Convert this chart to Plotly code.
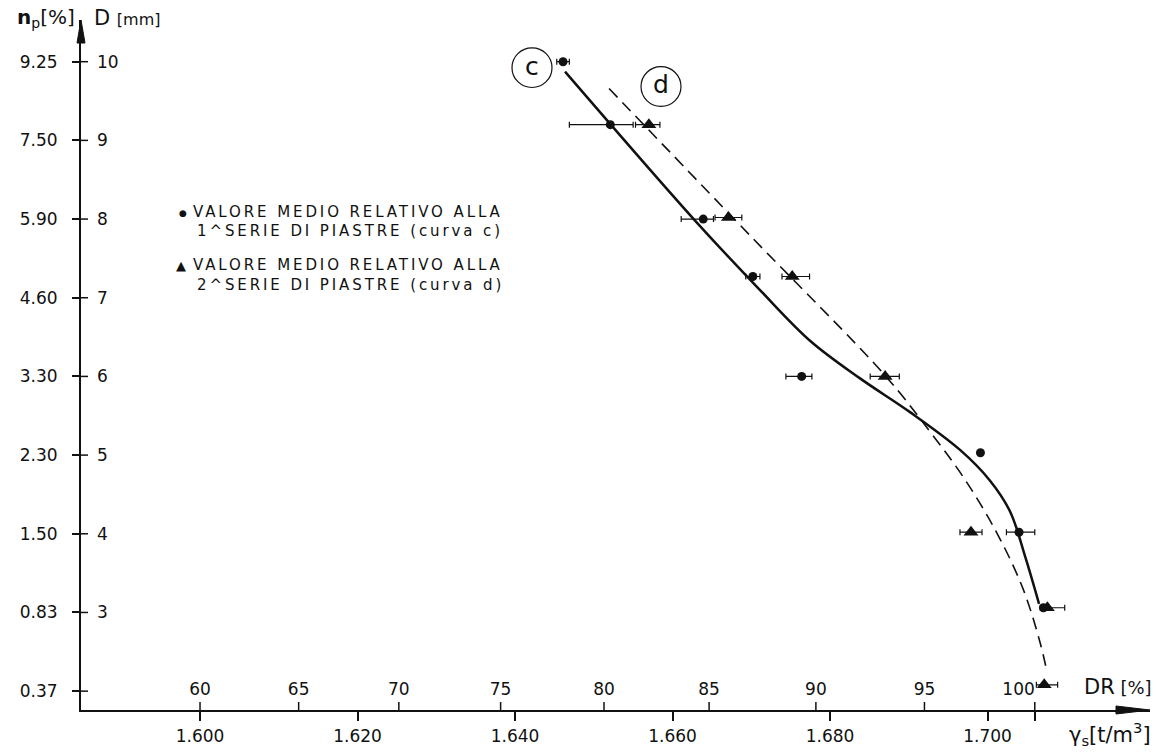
import plotly.graph_objects as go

# ---------------- data ----------------
# series c : mean values, 1st series of plates  (gamma_s [t/m3], D [mm])
c_gamma = [1.6461, 1.6521, 1.6639, 1.6702, 1.6764, 1.6991, 1.7040, 1.7071]
c_D = [10.0, 9.2, 8.0, 7.27, 6.0, 5.03, 4.02, 3.06]
c_err_minus = [0.0008, 0.0052, 0.0028, 0.0009, 0.0020, None, 0.0016, None]
c_err_plus = [0.0008, 0.0029, 0.0013, 0.0009, 0.0013, None, 0.0020, None]

# series d : mean values, 2nd series of plates
d_gamma = [1.6570, 1.6671, 1.6752, 1.6870, 1.6979, 1.7076, 1.7072]
d_D = [9.2, 8.02, 7.27, 6.0, 4.02, 3.06, 2.08]
d_err_minus = [0.0017, 0.0017, 0.0013, 0.0019, 0.0014, 0.0009, 0.0010]
d_err_plus = [0.0014, 0.0017, 0.0022, 0.0018, 0.0014, 0.0022, 0.0017]

# hand-drawn curves c (solid) and d (dashed)
curve_c_gamma = [1.64635, 1.66286, 1.67111, 1.67746, 1.68381, 1.69016,
                 1.69651, 1.70032, 1.70286, 1.70476, 1.70654]
curve_c_D = [9.874, 7.981, 7.098, 6.454, 5.975, 5.546,
             5.066, 4.675, 4.284, 3.716, 3.110]
curve_d_gamma = [1.65194, 1.66984, 1.68698, 1.69244, 1.69689, 1.70121,
                 1.70451, 1.70667, 1.70756]
curve_d_D = [9.659, 7.792, 6.013, 5.331, 4.726, 4.006,
             3.300, 2.618, 2.240]

# axes ticks
D_ticks = [2, 3, 4, 5, 6, 7, 8, 9, 10]
np_labels = ["0.37", "0.83", "1.50", "2.30", "3.30", "4.60", "5.90", "7.50", "9.25"]
gamma_ticks = [1.600, 1.620, 1.640, 1.660, 1.680, 1.700]
gamma_labels = ["1.600", "1.620", "1.640", "1.660", "1.680", "1.700"]
DR_ticks = [60, 65, 70, 75, 80, 85, 90, 95, 100]
GAMMA_MIN = 1.4636   # loosest state
GAMMA_MAX = 1.706    # densest state (DR = 100 %)

# DR -> gamma_s position  (DR = gmax (g - gmin) / (g (gmax - gmin)))
DR_pos = [GAMMA_MAX * GAMMA_MIN / (GAMMA_MAX - dr / 100 * (GAMMA_MAX - GAMMA_MIN)) for dr in DR_ticks]
NB = "\u00a0"
DR_text = [str(v) for v in DR_ticks[:-1]] + [str(DR_ticks[-1]) + NB * 6]

# ---------------- layout geometry ----------------
W, H = 1158, 754
ML, MR, MT, MB = 81, 8, 20, 39
X_RANGE = [1.58489, 1.72063]
Y_RANGE = [1.7603, 10.530]
PW, PH = W - ML - MR, H - MT - MB


def px(x):
    return (x - ML) / PW


def py(y):
    return (H - MB - y) / PH


FONT = "DejaVu Sans, Verdana, sans-serif"
BLACK = "#111111"

fig = go.Figure()

fig.add_trace(go.Scatter(x=curve_c_gamma, y=curve_c_D, mode="lines",
                         line=dict(color=BLACK, width=2.5, shape="spline", smoothing=1.0),
                         showlegend=False, hoverinfo="skip"))
fig.add_trace(go.Scatter(x=curve_d_gamma, y=curve_d_D, mode="lines",
                         line=dict(color=BLACK, width=1.6, dash="12px,7px", shape="spline", smoothing=1.0),
                         showlegend=False, hoverinfo="skip"))
fig.add_trace(go.Scatter(x=c_gamma, y=c_D, mode="markers",
                         marker=dict(symbol="circle", size=9, color=BLACK),
                         error_x=dict(type="data", symmetric=False, array=c_err_plus,
                                      arrayminus=c_err_minus, color=BLACK, thickness=1.2, width=3),
                         showlegend=False))
fig.add_trace(go.Scatter(x=d_gamma, y=d_D, mode="markers",
                         marker=dict(symbol="triangle-up", size=13, color=BLACK),
                         error_x=dict(type="data", symmetric=False, array=d_err_plus,
                                      arrayminus=d_err_minus, color=BLACK, thickness=1.2, width=3),
                         showlegend=False))
# invisible helper so that the secondary (DR / D) axes are drawn
fig.add_trace(go.Scatter(x=[X_RANGE[0]], y=[Y_RANGE[0]], xaxis="x2", yaxis="y2", mode="markers",
                         marker=dict(opacity=0), hoverinfo="skip", showlegend=False))

ann = []
# axis titles
ann.append(dict(x=px(77), y=py(18), xref="paper", yref="paper", xanchor="right", yanchor="middle",
                showarrow=False, text="<b>n</b><sub>p</sub>[%]", font=dict(family=FONT, size=20, color=BLACK)))
ann.append(dict(x=px(92), y=py(18), xref="paper", yref="paper", xanchor="left", yanchor="middle",
                showarrow=False, text="D <span style='font-size:16px'>[mm]</span>",
                font=dict(family=FONT, size=21, color=BLACK)))
ann.append(dict(x=px(1154), y=py(692), xref="paper", yref="paper", xanchor="right", yanchor="middle",
                showarrow=False, text="DR<span style='font-size:18px'> [%]</span>",
                font=dict(family=FONT, size=21, color=BLACK)))
ann.append(dict(x=px(1153), y=py(739), xref="paper", yref="paper", xanchor="right", yanchor="middle",
                showarrow=False, text="γ<sub>s</sub>[t/m<sup>3</sup>]",
                font=dict(family=FONT, size=21, color=BLACK)))

# legend texts
LEG = dict(family=FONT, size=15, color=BLACK)


def spaced(t):
    return "<span style='letter-spacing:2.9px'>" + t + "</span>"


ann.append(dict(x=px(177), y=py(214), xref="paper", yref="paper", xanchor="left", yanchor="middle",
                showarrow=False, text="●", font=dict(family=FONT, size=9, color=BLACK)))
ann.append(dict(x=px(191), y=py(213), xref="paper", yref="paper", xanchor="left", yanchor="middle",
                showarrow=False, text=spaced("VALORE MEDIO RELATIVO ALLA"), font=LEG))
ann.append(dict(x=px(195), y=py(233), xref="paper", yref="paper", xanchor="left", yanchor="middle",
                showarrow=False, text=spaced("1^SERIE DI PIASTRE (curva c)"), font=LEG))
ann.append(dict(x=px(174), y=py(267), xref="paper", yref="paper", xanchor="left", yanchor="middle",
                showarrow=False, text="▲", font=dict(family=FONT, size=13, color=BLACK)))
ann.append(dict(x=px(191), y=py(267), xref="paper", yref="paper", xanchor="left", yanchor="middle",
                showarrow=False, text=spaced("VALORE MEDIO RELATIVO ALLA"), font=LEG))
ann.append(dict(x=px(195), y=py(287), xref="paper", yref="paper", xanchor="left", yanchor="middle",
                showarrow=False, text=spaced("2^SERIE DI PIASTRE (curva d)"), font=LEG))

# circled curve labels
ann.append(dict(x=px(532), y=py(67), xref="paper", yref="paper", xanchor="center", yanchor="middle",
                showarrow=False, text="c", font=dict(family=FONT, size=25, color=BLACK)))
ann.append(dict(x=px(661), y=py(85), xref="paper", yref="paper", xanchor="center", yanchor="middle",
                showarrow=False, text="d", font=dict(family=FONT, size=25, color=BLACK)))

shapes = []
for cx, cy in [(532, 68), (661, 87)]:
    shapes.append(dict(type="circle", xref="paper", yref="paper",
                       x0=px(cx - 20), x1=px(cx + 20), y0=py(cy + 20), y1=py(cy - 20),
                       line=dict(color=BLACK, width=1.2)))
# arrowheads at the ends of the two axes
shapes.append(dict(type="path", xref="paper", yref="paper", xsizemode="pixel", ysizemode="pixel",
                   xanchor=1, yanchor=0, path="M 0,0 L -34,4 L -34,-4 Z",
                   fillcolor=BLACK, line=dict(color=BLACK, width=1)))
shapes.append(dict(type="path", xref="paper", yref="paper", xsizemode="pixel", ysizemode="pixel",
                   xanchor=0, yanchor=1, path="M 0,0 L -4,-23 L 4,-23 Z",
                   fillcolor=BLACK, line=dict(color=BLACK, width=1)))
# inner halves of the axis ticks (DR ticks above the x axis, D ticks right of the y axis)
for pos in DR_pos:
    shapes.append(dict(type="line", xref="x", yref="paper", ysizemode="pixel", yanchor=0,
                       x0=pos, x1=pos, y0=0, y1=8, line=dict(color=BLACK, width=1.5)))
for d in D_ticks:
    shapes.append(dict(type="line", xref="paper", yref="y", xsizemode="pixel", xanchor=0,
                       x0=0, x1=7, y0=d, y1=d, line=dict(color=BLACK, width=1.5)))

TICKF = dict(family=FONT, size=17, color=BLACK)
fig.update_layout(
    width=W, height=H,
    margin=dict(l=ML, r=MR, t=MT, b=MB, pad=0),
    paper_bgcolor="white", plot_bgcolor="white",
    font=dict(family=FONT, size=17, color=BLACK),
    showlegend=False,
    annotations=ann, shapes=shapes,
    xaxis=dict(range=X_RANGE, showgrid=False, zeroline=False,
               showline=True, linecolor=BLACK, linewidth=2,
               tickvals=gamma_ticks + [GAMMA_MAX], ticktext=gamma_labels + [""],
               ticks="outside", ticklen=9, tickwidth=1.5, tickcolor=BLACK,
               tickfont=TICKF, ticklabelstandoff=1),
    xaxis2=dict(range=X_RANGE, overlaying="x", anchor="y", side="bottom",
                showgrid=False, zeroline=False, showline=False,
                tickvals=DR_pos, ticktext=DR_text, ticks="",
                ticklabelposition="inside", ticklabelstandoff=9,
                tickfont=TICKF),
    yaxis=dict(range=Y_RANGE, showgrid=False, zeroline=False,
               showline=True, linecolor=BLACK, linewidth=2,
               tickvals=D_ticks, ticktext=np_labels,
               ticks="outside", ticklen=7, tickwidth=1.5, tickcolor=BLACK,
               ticklabelstandoff=11, tickfont=TICKF),
    yaxis2=dict(range=Y_RANGE, overlaying="y", anchor="x", side="left",
                showgrid=False, zeroline=False, showline=False,
                tickvals=D_ticks, ticktext=[str(v) for v in D_ticks], ticks="",
                ticklabelposition="inside", ticklabelstandoff=13,
                tickfont=TICKF),
)

fig.write_html("out.html")
